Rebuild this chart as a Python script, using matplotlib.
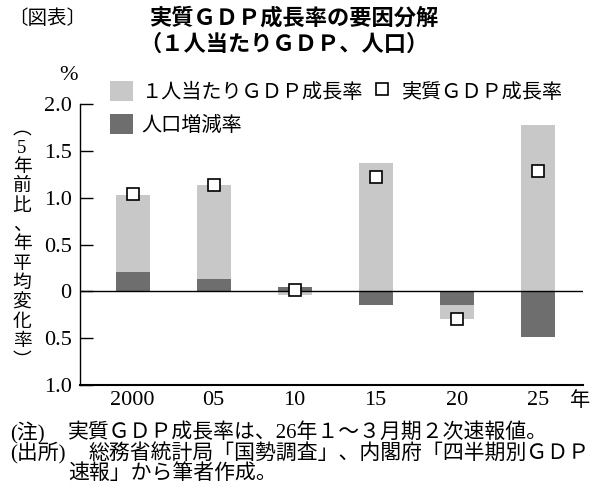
import matplotlib
matplotlib.use('Agg')
import matplotlib.pyplot as plt
import numpy as np

# data (5-year average change, %)
years = ['2000', '05', '10', '15', '20', '25']
per_capita = [0.82, 1.00, -0.04, 1.37, -0.15, 1.78]   # 1人当たりGDP成長率
population = [0.21, 0.13, 0.05, -0.15, -0.15, -0.49]  # 人口増減率
real_gdp = [1.04, 1.14, 0.01, 1.22, -0.30, 1.29]      # 実質GDP成長率
yticks = [2.0, 1.5, 1.0, 0.5, 0.0, -0.5, -1.0]
ytick_labels = ['2.0', '1.5', '1.0', '0.5', '0', '0.5', '1.0']

JP = ['Noto Sans CJK JP', 'DejaVu Sans']
MIX = ['Liberation Serif', 'Noto Sans CJK JP']
light = '#c8c8c8'
dark = '#6e6e6e'

W, H = 600, 494
fig = plt.figure(figsize=(6, 4.94), dpi=100)
ax = fig.add_axes([80 / W, 1 - 385 / H, 503 / W, 281 / H])

def fx(px):
    return px / W

def fy(py):
    return 1 - py / H

x = np.arange(len(years))
pop = np.array(population)
pc = np.array(per_capita)
# stack per-capita on population with sign-aware bottoms
pc_bottom = np.where(np.sign(pc) == np.sign(pop), pop, 0)

b_pop = ax.bar(x, pop, width=0.42, color=dark, zorder=2)
b_pc = ax.bar(x, pc, width=0.42, bottom=pc_bottom, color=light, zorder=2)
ax.axhline(0, color='black', lw=1.0, zorder=3)
mk, = ax.plot(x, real_gdp, linestyle='none', marker='s', markersize=8.5,
              markerfacecolor='white', markeredgecolor='black',
              markeredgewidth=1.2, zorder=4)

ax.set_xlim(-0.65, 5.56)
ax.set_ylim(-1.0, 2.0)
ax.set_yticks(yticks)
ax.set_yticklabels(ytick_labels, family=MIX, fontsize=16)
ax.set_xticks(x)
ax.set_xticklabels(years, family=MIX, fontsize=16)
ax.tick_params(axis='y', direction='in', length=9, width=1, pad=6)
ax.tick_params(axis='x', length=0, pad=4)
for s in ['top', 'right']:
    ax.spines[s].set_visible(False)
ax.spines['left'].set_linewidth(1)
ax.spines['bottom'].set_linewidth(1.5)

# ncol=2 fills column by column: light, dark | marker
ax.legend([b_pc, b_pop, mk],
          ['１人当たりＧＤＰ成長率', '人口増減率', '実質ＧＤＰ成長率'], ncol=2,
          loc='upper left', bbox_to_anchor=(fx(110), fy(81)),
          bbox_transform=fig.transFigure, frameon=False,
          prop={'family': JP, 'size': 14.5}, handlelength=1.15,
          handleheight=1.15, handletextpad=0.4, columnspacing=0.4,
          labelspacing=0.55, borderpad=0, borderaxespad=0)

# titles and notes
fig.text(fx(8), fy(18), '〔図表〕', family=JP, fontsize=14, va='center')
fig.text(fx(294), fy(18), '実質ＧＤＰ成長率の要因分解', family=JP, fontsize=16,
         weight='bold', ha='center', va='center')
fig.text(fx(284), fy(44), '（１人当たりＧＤＰ、人口）', family=JP, fontsize=16,
         weight='bold', ha='center', va='center')
fig.text(fx(68), fy(76), '%', family=MIX, fontsize=16, ha='center', va='center')
fig.text(fx(580), fy(400), '年', family=JP, fontsize=14.5, ha='center', va='center')

ylabel = '︵5年前比、年平均変化率︶'
fig.text(fx(22), fy(245), '\n'.join(ylabel), family=MIX, fontsize=13.5,
         ha='center', va='center', linespacing=1.18)

fig.text(fx(10), fy(433), '(注)', family=MIX, fontsize=15, va='center')
fig.text(fx(68), fy(433), '実質ＧＤＰ成長率は、26年１～３月期２次速報値。',
         family=MIX, fontsize=15, va='center')
fig.text(fx(10), fy(453), '(出所)', family=MIX, fontsize=15, va='center')
fig.text(fx(88), fy(453), '総務省統計局「国勢調査」、内閣府「四半期別ＧＤＰ',
         family=JP, fontsize=15, va='center')
fig.text(fx(68), fy(473), '速報」から筆者作成。', family=JP, fontsize=15, va='center')

fig.savefig('out.png', dpi=100)
